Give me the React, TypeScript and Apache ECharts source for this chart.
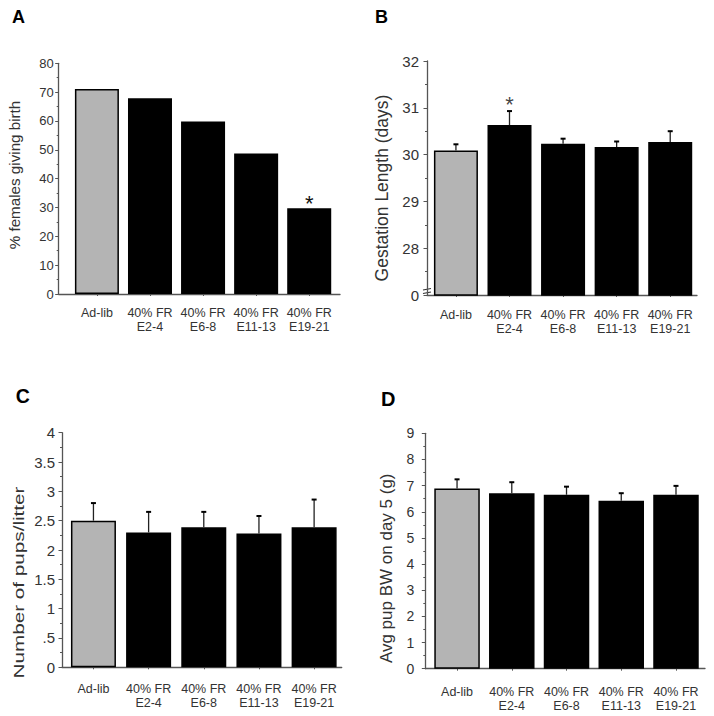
import React, { useEffect, useRef } from "react";
import * as echarts from "echarts";

// ---------- data ----------
const categories = ["Ad-lib", "40% FR\nE2-4", "40% FR\nE6-8", "40% FR\nE11-13", "40% FR\nE19-21"];

// A: % females giving birth
const pctBirth = [71.1, 67.9, 59.8, 48.7, 29.7];
const starA = [4];

// B: gestation length (days)
const gestationDays = [30.09, 30.63, 30.23, 30.16, 30.27];
const gestationErr = [0.13, 0.3, 0.11, 0.12, 0.23];
const starB = [1];

// C: number of pups / litter
const pupsPerLitter = [2.5, 2.3, 2.39, 2.28, 2.39];
const pupsErr = [0.3, 0.35, 0.26, 0.3, 0.47];

// D: avg pup BW on day 5 (g)
const pupBw = [6.89, 6.71, 6.65, 6.42, 6.65];
const pupBwErr = [0.35, 0.42, 0.31, 0.29, 0.34];

const FONT = "'Liberation Sans', Arial, Helvetica, sans-serif";
const GREY = "#b4b4b4";
const AXIS = "#555";
const TXT = "#333";

type Panel = {
  letter: string;
  title: string;
  values: number[];
  errors: number[] | null;
  stars: number[];
  grid: { left: number; top: number; width: number; height: number };
  xMin: number;
  xMax: number;
  yMin: number;
  yMax: number;
  yInterval: number;
  yFont: number;
  yMargin: number;
  xMargin: number;
  barWidth: number;
  yFormatter: (v: number) => string;
  starOffset: number;
  letterPos: [number, number, number];
  titlePos: [number, number, number, number];
};

const panels: Panel[] = [
  {
    letter: "A",
    title: "% females giving birth",
    values: pctBirth,
    errors: null,
    stars: starA,
    grid: { left: 58.7, top: 63.3, width: 281.3, height: 230.7 },
    xMin: -0.72,
    xMax: 4.58,
    yMin: 0,
    yMax: 80,
    yInterval: 10,
    yFont: 13,
    yMargin: 5,
    xMargin: 12,
    barWidth: 44,
    yFormatter: (v) => String(v),
    starOffset: 6,
    letterPos: [18.5, 16.5, 18],
    titlePos: [14, 175, 15.2, 1],
  },
  {
    letter: "B",
    title: "Gestation Length (days)",
    values: gestationDays,
    errors: gestationErr,
    stars: starB,
    grid: { left: 427, top: 61, width: 270, height: 234 },
    xMin: -0.54,
    xMax: 4.5,
    yMin: 27,
    yMax: 32,
    yInterval: 1,
    yFont: 15,
    yMargin: 8,
    xMargin: 13,
    barWidth: 44,
    yFormatter: (v) => (v === 27 ? "0" : String(v)),
    starOffset: -10,
    letterPos: [381.5, 16.7, 18],
    titlePos: [382, 188, 17.5, 1],
  },
  {
    letter: "C",
    title: "Number of pups/litter",
    values: pupsPerLitter,
    errors: pupsErr,
    stars: [],
    grid: { left: 62, top: 432.7, width: 279.7, height: 234.6 },
    xMin: -0.57,
    xMax: 4.5,
    yMin: 0,
    yMax: 4,
    yInterval: 0.5,
    yFont: 15,
    yMargin: 7,
    xMargin: 14.5,
    barWidth: 45,
    yFormatter: (v) => (v === 0.5 ? ".5" : String(v)),
    starOffset: 0,
    letterPos: [22.7, 396.3, 19.5],
    titlePos: [19, 582.5, 15, 1.38],
  },
  {
    letter: "D",
    title: "Avg pup BW on day 5 (g)",
    values: pupBw,
    errors: pupBwErr,
    stars: [],
    grid: { left: 425.3, top: 433.3, width: 279.7, height: 235.4 },
    xMin: -0.58,
    xMax: 4.53,
    yMin: 0,
    yMax: 9,
    yInterval: 1,
    yFont: 14,
    yMargin: 11,
    xMargin: 16.5,
    barWidth: 45.5,
    yFormatter: (v) => String(v),
    starOffset: 0,
    letterPos: [388.3, 398.8, 20],
    titlePos: [386.5, 568.3, 17, 1],
  },
];

function buildOption() {
  const grid: any[] = [];
  const xAxis: any[] = [];
  const yAxis: any[] = [];
  const series: any[] = [];
  const graphic: any[] = [];

  panels.forEach((p, k) => {
    grid.push({ ...p.grid, containLabel: false, outerBoundsMode: "none" });
    const idx = categories.map((_, i) => i);
    xAxis.push({
      type: "value",
      gridIndex: k,
      min: p.xMin,
      max: p.xMax,
      splitLine: { show: false },
      axisLine: { show: true, onZero: false, lineStyle: { color: AXIS, width: 1.3 } },
      axisTick: { show: true, customValues: idx, length: 2, lineStyle: { color: AXIS } },
      axisLabel: {
        customValues: idx,
        formatter: (v: number) => categories[Math.round(v)],
        fontSize: 12.5,
        lineHeight: 14,
        margin: p.xMargin,
        color: TXT,
        fontFamily: FONT,
      },
    });
    yAxis.push({
      type: "value",
      gridIndex: k,
      min: p.yMin,
      max: p.yMax,
      interval: p.yInterval,
      splitLine: { show: false },
      axisLine: { show: true, onZero: false, lineStyle: { color: AXIS, width: 1.3 } },
      axisTick: { show: true, length: 3.5, lineStyle: { color: AXIS } },
      minorTick: { show: true, splitNumber: 2, length: 2, lineStyle: { color: AXIS } },
      axisLabel: {
        formatter: p.yFormatter,
        fontSize: p.yFont,
        margin: p.yMargin,
        color: TXT,
        fontFamily: FONT,
      },
    });

    const starHost = p.errors ? "err" : "bar";
    series.push({
      type: "bar",
      xAxisIndex: k,
      yAxisIndex: k,
      barWidth: p.barWidth,
      z: 2,
      data: p.values.map((v, i) => ({
        value: [i, v],
        itemStyle: { color: i === 0 ? GREY : "#000", borderColor: "#000", borderWidth: 1.5 },
        label:
          starHost === "bar" && p.stars.includes(i)
            ? {
                show: true,
                position: "top",
                distance: 0,
                offset: [0, p.starOffset],
                formatter: "*",
                fontSize: 22,
                color: "#111",
                fontFamily: FONT,
              }
            : { show: false },
      })),
    });

    if (p.errors) {
      const errs = p.errors;
      series.push({
        type: "custom",
        xAxisIndex: k,
        yAxisIndex: k,
        z: 3,
        encode: { x: 0, y: 1 },
        data: p.values.map((v, i) => [i, v, errs[i]]),
        renderItem: (params: any, api: any) => {
          const x = api.value(0);
          const y = api.value(1);
          const e = api.value(2);
          const b = api.coord([x, y]);
          const t = api.coord([x, y + e]);
          return {
            type: "group",
            children: [
              {
                type: "line",
                shape: { x1: b[0], y1: b[1], x2: t[0], y2: t[1] },
                style: { stroke: "#222", lineWidth: 1.3 },
              },
              {
                type: "line",
                shape: { x1: t[0] - 2.5, y1: t[1], x2: t[0] + 2.5, y2: t[1] },
                style: { stroke: "#000", lineWidth: 2 },
              },
            ],
          };
        },
      });
      if (p.stars.length) {
        series.push({
          type: "scatter",
          xAxisIndex: k,
          yAxisIndex: k,
          symbolSize: 0,
          z: 4,
          data: p.stars.map((i) => [i, p.values[i] + errs[i]]),
          label: {
            show: true,
            position: "top",
            distance: 0,
            offset: [0, p.starOffset + 14],
            formatter: "*",
            fontSize: 22,
            color: "#111",
            fontFamily: FONT,
          },
        });
      }
    }

    graphic.push({
      type: "text",
      x: p.letterPos[0],
      y: p.letterPos[1],
      style: {
        text: p.letter,
        fontSize: p.letterPos[2],
        fontWeight: "bold",
        fontFamily: FONT,
        fill: "#000",
        align: "center",
        verticalAlign: "middle",
      },
    });
    graphic.push({
      type: "text",
      x: p.titlePos[0],
      y: p.titlePos[1],
      rotation: Math.PI / 2,
      scaleX: p.titlePos[3],
      style: {
        text: p.title,
        fontSize: p.titlePos[2],
        fontFamily: FONT,
        fill: TXT,
        align: "center",
        verticalAlign: "middle",
      },
    });
  });

  // axis-break mark on panel B
  const bx = panels[1].grid.left;
  graphic.push({
    type: "group",
    children: [
      { type: "rect", shape: { x: bx - 4, y: 289, width: 8, height: 4 }, style: { fill: "#fff" } },
      { type: "line", shape: { x1: bx - 4, y1: 290, x2: bx + 4, y2: 288.5 }, style: { stroke: "#333", lineWidth: 1.1 } },
      { type: "line", shape: { x1: bx - 4, y1: 293.5, x2: bx + 4, y2: 292 }, style: { stroke: "#333", lineWidth: 1.1 } },
    ],
  });

  return {
    animation: false,
    backgroundColor: "#fff",
    textStyle: { fontFamily: FONT },
    grid,
    xAxis,
    yAxis,
    series,
    graphic,
  };
}

export default function App() {
  const ref = useRef<HTMLDivElement>(null);
  useEffect(() => {
    document.body.style.margin = "0";
    if (!ref.current) return;
    const chart = echarts.init(ref.current, null, { renderer: "svg" });
    chart.setOption(buildOption() as any);
    return () => chart.dispose();
  }, []);
  return <div ref={ref} style={{ width: 714, height: 716 }} />;
}
